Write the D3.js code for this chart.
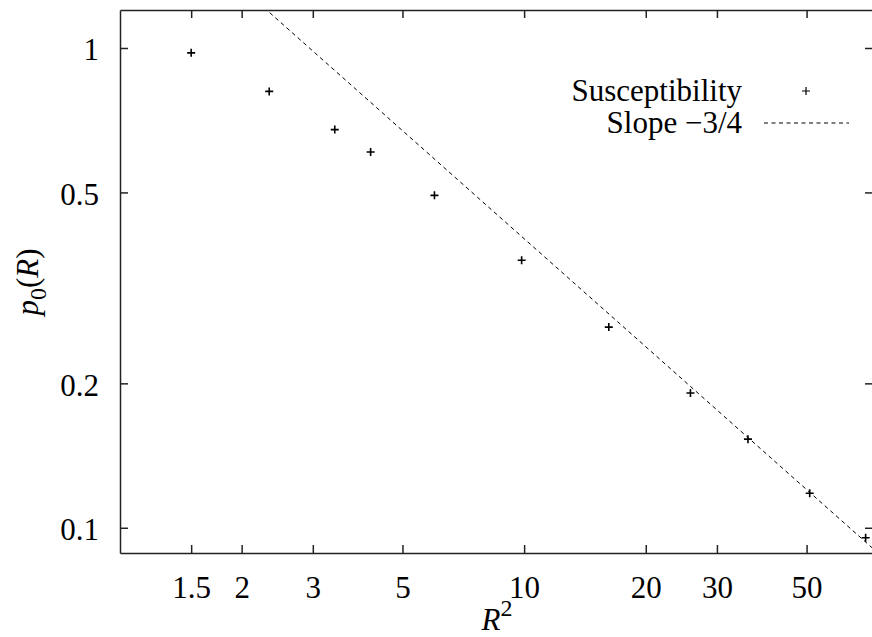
<!DOCTYPE html>
<html>
<head>
  <meta charset="utf-8">
  <title>p0(R) vs R^2 - D3 log-log plot</title>
  <script src="https://d3js.org/d3.v7.min.js"></script>
  <style>
    body {
      margin: 0;
      background: #fff;
    }
    svg text {
      font-family: 'Liberation Serif', 'Times New Roman', serif;
      font-size: 31px;
      fill: #000;
    }
    .axis path, .axis line {
      stroke: #222;
      stroke-width: 1.5;
    }
  </style>
</head>
<body>
  <div id="chart"></div>
  <script>
    // measured susceptibility points (R^2, p0(R))
    var rSquared = [1.5, 2.34, 3.4, 4.17, 6.0, 9.86, 16.2, 25.8, 35.8, 50.9, 70.0];
    var p0 = [0.977, 0.812, 0.676, 0.607, 0.493, 0.361, 0.262, 0.191, 0.153, 0.118, 0.0953];

    // reference line with slope -3/4, given by its two ends
    var slopeX = [2.0, 73];
    var slopeY = [1.335, 0.0905];

    var xTicks = [1.5, 2, 3, 5, 10, 20, 30, 50];
    var yTicks = [0.1, 0.2, 0.5, 1];

    var W = 872, H = 637;
    var pLeft = 120, pRight = 873, pTop = 10, pBottom = 553;

    var svg = d3.select("#chart")
      .append("svg")
      .attr("width", W)
      .attr("height", H);

    var x = d3.scaleLog()
      .domain([1, 73])
      .range([pLeft, pRight]);

    var y = d3.scaleLog()
      .domain([0.0886, 1.2])
      .range([pBottom, pTop]);

    // axes, gnuplot style: ticks pointing inwards on all four sides
    svg.append("g")
      .attr("class", "axis")
      .attr("transform", "translate(0," + pBottom + ")")
      .call(d3.axisBottom(x).tickValues(xTicks).tickSize(-8).tickSizeOuter(0)
        .tickPadding(23).tickFormat(d3.format("")));

    svg.append("g")
      .attr("class", "axis")
      .attr("transform", "translate(0," + pTop + ")")
      .call(d3.axisTop(x).tickValues(xTicks).tickSize(-8).tickSizeOuter(0).tickFormat(""));

    svg.append("g")
      .attr("class", "axis")
      .attr("transform", "translate(" + pLeft + ",0)")
      .call(d3.axisLeft(y).tickValues(yTicks).tickSize(-8).tickSizeOuter(0)
        .tickPadding(21).tickFormat(d3.format("")))
      .selectAll("text")
      .attr("dy", "0.38em");

    svg.append("g")
      .attr("class", "axis")
      .attr("transform", "translate(" + pRight + ",0)")
      .call(d3.axisRight(y).tickValues(yTicks).tickSize(-8).tickSizeOuter(0).tickFormat(""));

    svg.selectAll(".axis text")
      .style("font-size", "31px")
      .style("font-family", "'Liberation Serif', serif")
      .attr("fill", "#000");

    // clip to the plot frame
    svg.append("clipPath")
      .attr("id", "clip")
      .append("rect")
      .attr("x", pLeft)
      .attr("y", pTop)
      .attr("width", pRight - pLeft)
      .attr("height", pBottom - pTop);

    var plot = svg.append("g").attr("clip-path", "url(#clip)");

    var slopeData = slopeX.map((v, i) => ({x: v, y: slopeY[i]}));
    plot.append("path")
      .datum(slopeData)
      .attr("fill", "none")
      .attr("stroke", "#000")
      .attr("stroke-width", 1)
      .attr("stroke-dasharray", "4,3.5")
      .attr("d", d3.line().x(d => x(d.x)).y(d => y(d.y)));

    var pts = rSquared.map((v, i) => ({x: v, y: p0[i]}));
    var cross = "M-4,0H4M0,-4V4";

    plot.selectAll(".pt")
      .data(pts)
      .enter()
      .append("path")
      .attr("class", "pt")
      .attr("transform", d => "translate(" + x(d.x) + "," + y(d.y) + ")")
      .attr("d", cross)
      .attr("stroke", "#000")
      .attr("stroke-width", 1.6);

    // legend
    var legend = svg.append("g");
    legend.append("text")
      .attr("x", 742)
      .attr("y", 101)
      .attr("text-anchor", "end")
      .text("Susceptibility");
    legend.append("path")
      .attr("transform", "translate(806,91)")
      .attr("d", cross)
      .attr("stroke", "#000")
      .attr("stroke-width", 1.2);
    legend.append("text")
      .attr("x", 742)
      .attr("y", 133)
      .attr("text-anchor", "end")
      .text("Slope \u22123/4");
    legend.append("line")
      .attr("x1", 764)
      .attr("x2", 849)
      .attr("y1", 123)
      .attr("y2", 123)
      .attr("stroke", "#000")
      .attr("stroke-width", 1)
      .attr("stroke-dasharray", "4,3.5");

    // axis titles
    var xl = svg.append("text")
      .attr("x", 497)
      .attr("y", 630)
      .attr("text-anchor", "middle");
    xl.append("tspan").style("font-style", "italic").text("R");
    xl.append("tspan").attr("dy", -14).style("font-size", "24px").text("2");

    var yl = svg.append("text")
      .attr("transform", "translate(38,282) rotate(-90)")
      .attr("text-anchor", "middle");
    yl.append("tspan").style("font-style", "italic").text("p");
    yl.append("tspan").attr("dy", 8).style("font-size", "24px").text("0");
    yl.append("tspan").attr("dy", -8).text("(");
    yl.append("tspan").style("font-style", "italic").text("R");
    yl.append("tspan").text(")");
  </script>
</body>
</html>
